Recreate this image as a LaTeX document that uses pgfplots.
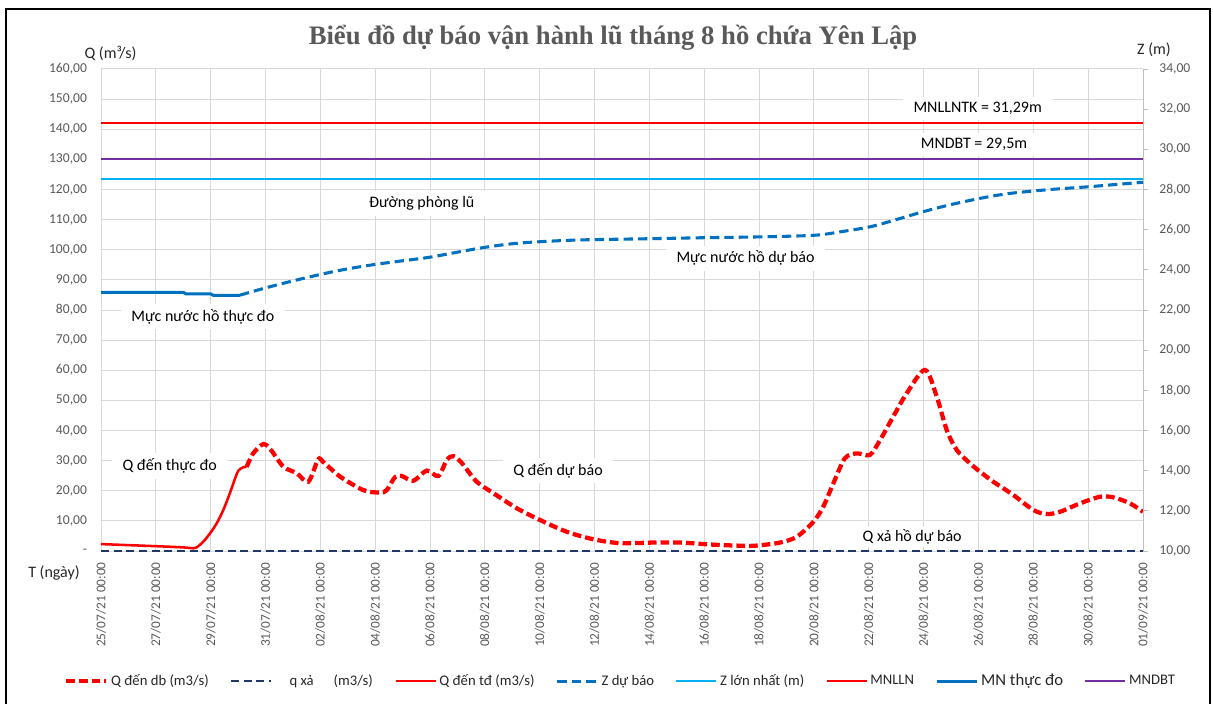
\documentclass[border=0pt]{standalone}
\usepackage{pgfplots}
\pgfplotsset{compat=1.18}
\usepackage{fontspec}
\setmainfont{Carlito}
\newfontfamily\titlefont{Liberation Serif}
\definecolor{qred}{HTML}{FF0000}
\definecolor{navy}{HTML}{203864}
\definecolor{zblue}{HTML}{0070C0}
\definecolor{zcyan}{HTML}{00B0F0}
\definecolor{mpurple}{HTML}{7030A0}
\definecolor{gridgray}{HTML}{D9D9D9}
\definecolor{axgray}{HTML}{BFBFBF}
\definecolor{txtgray}{HTML}{595959}
\definecolor{legtext}{HTML}{262626}
\tikzset{
  qdbstyle/.style={qred, line width=3.2pt, dash pattern=on 6.5pt off 3pt},
  qxastyle/.style={navy, line width=1.7pt, dash pattern=on 6pt off 3.5pt},
  qtdstyle/.style={qred, line width=1.9pt},
  zdbstyle/.style={zblue, line width=2.3pt, dash pattern=on 7pt off 3.8pt},
  zlnstyle/.style={zcyan, line width=1.5pt},
  mnllnstyle/.style={qred, line width=1.5pt},
  mntdstyle/.style={zblue, line width=2.3pt},
  mndbtstyle/.style={mpurple, line width=1.5pt},
  ann/.style={fill=white, text=black, font=\fontsize{12}{14}\selectfont, inner xsep=8pt, inner ysep=4pt},
}
\begin{document}
\begin{tikzpicture}
\path[use as bounding box] (0pt,0pt) rectangle (909.75pt,528pt);
\begin{axis}[
  at={(75.75pt,114.75pt)}, anchor=south west,
  scale only axis, width=781.5pt, height=361.5pt,
  xmin=0, xmax=38, ymin=0, ymax=160,
  clip=false,
  axis line style={draw=none},
  major tick length=0pt,
  tick pos=left,
  grid=major, grid style={gridgray, line width=0.75pt},
  xtick={0,2,...,38},
  xticklabels={25/07/21 00:00, 27/07/21 00:00, 29/07/21 00:00, 31/07/21 00:00, 02/08/21 00:00, 04/08/21 00:00, 06/08/21 00:00, 08/08/21 00:00, 10/08/21 00:00, 12/08/21 00:00, 14/08/21 00:00, 16/08/21 00:00, 18/08/21 00:00, 20/08/21 00:00, 22/08/21 00:00, 24/08/21 00:00, 26/08/21 00:00, 28/08/21 00:00, 30/08/21 00:00, 01/09/21 00:00},
  xticklabel style={rotate=90, anchor=east, font=\fontsize{10}{12}\selectfont, text=txtgray},
  xticklabel shift=5pt,
  ytick={0,10,...,160},
  yticklabels={{-\hspace{6pt}},{10,00},{20,00},{30,00},{40,00},{50,00},{60,00},{70,00},{80,00},{90,00},{100,00},{110,00},{120,00},{130,00},{140,00},{150,00},{160,00}},
  yticklabel style={font=\fontsize{10.2}{12}\selectfont, text=txtgray},
  yticklabel shift=7pt,
]
% q xa (m3/s)
\addplot[qxastyle] coordinates {(0,0) (38,0)};
% Q den thuc do
\addplot[qtdstyle, smooth] coordinates {(0,2.3) (1,1.95) (2,1.6) (3,1.2) (3.37,0.9) (3.49,1.2) (3.73,3.1) (3.98,5.9) (4.22,9.2) (4.46,13.6) (4.70,19.2) (4.89,24.1) (5.01,26.7) (5.19,27.8) (5.31,27.9)};
% Q den du bao
\addplot[qdbstyle, smooth] coordinates {(5.31,27.9) (5.55,32.4) (5.92,35.5) (6.20,33.5) (6.65,28) (7.14,25.8) (7.56,23.0) (7.92,30.4) (8.11,29.5) (8.72,24.7) (9.57,20.2) (10.17,19.4) (10.42,20.2) (10.72,24.5) (10.97,24.9) (11.39,23.3) (11.88,26.7) (12.30,24.9) (12.61,30.2) (12.85,31.5) (13.15,29.3) (13.70,23.0) (14.31,19.2) (15.16,14.2) (16.01,10.3) (16.98,6.4) (17.95,3.9) (18.93,2.6) (20.14,2.8) (21.12,2.8) (22.33,2.1) (23.55,1.7) (24.03,1.9) (24.76,2.8) (25.37,4.7) (25.98,9.7) (26.34,14.7) (26.71,22.5) (27.13,30.8) (27.56,32.4) (28.04,31.9) (28.41,36.8) (28.89,44.6) (29.38,52.3) (30.05,60.1) (30.48,51.2) (30.84,40.2) (31.21,33.5) (31.69,29.1) (32.06,26.3) (32.54,23.0) (33.27,18.6) (34.0,13.6) (34.49,12.3) (34.97,13.0) (35.70,15.8) (36.43,18.0) (36.92,17.8) (37.53,15.8) (38.0,13.0)};
\end{axis}
\begin{axis}[
  at={(75.75pt,114.75pt)}, anchor=south west,
  scale only axis, width=781.5pt, height=361.5pt,
  xmin=0, xmax=38, ymin=10, ymax=34,
  clip=false,
  axis x line=none, axis y line*=right,
  y axis line style={draw=axgray, line width=0.75pt},
  ytick={10,12,...,34},
  yticklabels={{10,00},{12,00},{14,00},{16,00},{18,00},{20,00},{22,00},{24,00},{26,00},{28,00},{30,00},{32,00},{34,00}},
  tick align=outside, major tick length=3.75pt,
  ytick style={axgray, line width=0.75pt},
  yticklabel style={font=\fontsize{10.2}{12}\selectfont, text=txtgray},
  yticklabel shift=5pt,
  legend columns=8,
  legend cell align=left,
  legend image code/.code={\draw (0pt,0pt) -- (30pt,0pt);},
  legend style={at={(0.499,-0.27)}, anchor=center, draw=none, fill=none,
    font=\fontsize{11}{12}\selectfont, text=legtext,
    /tikz/every even column/.append style={column sep=14pt}},
]
\addlegendimage{qdbstyle}
\addlegendentry{Q đến db (m3/s)}
\addlegendimage{qxastyle}
\addlegendentry{\hspace{11pt}q xả\hspace{15pt}(m3/s)}
\addlegendimage{qtdstyle}
\addlegendentry{Q đến tđ (m3/s)}
% Z du bao
\addplot[zdbstyle, smooth] coordinates {(5.07,22.74) (6.0,23.10) (7.0,23.45) (8.1,23.80) (9.0,24.05) (10.05,24.28) (11.0,24.45) (12.0,24.63) (13.0,24.88) (14.0,25.12) (15.0,25.30) (16.0,25.40) (17.5,25.49) (20.0,25.55) (22.0,25.60) (24.0,25.64) (26.0,25.72) (27.0,25.90) (28.07,26.15) (29.0,26.50) (30.0,26.90) (31.0,27.25) (32.06,27.56) (33.0,27.78) (34.03,27.93) (35.0,28.04) (36.05,28.14) (37.0,28.25) (38.0,28.36)};
\addlegendentry{Z dự báo}
% Z lon nhat
\addplot[zlnstyle] coordinates {(0,28.5) (38,28.5)};
\addlegendentry{Z lớn nhất (m)}
% MNLLN
\addplot[mnllnstyle] coordinates {(0,31.29) (38,31.29)};
\addlegendentry{MNLLN}
% MN thuc do
\addplot[mntdstyle] coordinates {(0,22.88) (3.0,22.88) (3.1,22.80) (4.0,22.80) (4.1,22.73) (5.07,22.73)};
\addlegendentry{{\fontsize{12.5}{13}\selectfont MN thực đo}}
% MNDBT
\addplot[mndbtstyle] coordinates {(0,29.5) (38,29.5)};
\addlegendentry{MNDBT}
\end{axis}
\begin{scope}[x=0.75pt, y=0.75pt]
\draw[black, line width=1.6pt] (6,0) -- (6,695) -- (1210,695) -- (1210,0);
\node[text=txtgray, font=\titlefont\bfseries\fontsize{20}{24}\selectfont] at (613,666) {Biểu đồ dự báo vận hành lũ tháng 8 hồ chứa Yên Lập};
\node[font=\fontsize{12}{14}\selectfont, text=legtext] at (110.5,651) {Q (m³/s)};
\node[font=\fontsize{12}{14}\selectfont, text=legtext] at (1154,654) {Z (m)};
\node[font=\fontsize{12}{14}\selectfont, text=legtext] at (54,131) {T (ngày)};
\node[ann] at (977.7,595.7) {MNLLNTK = 31,29m};
\node[ann] at (974,559.7) {MNDBT = 29,5m};
\node[ann] at (421.7,500.7) {Đường phòng lũ};
\node[ann] at (745.5,445.7) {Mực nước hồ dự báo};
\node[ann] at (202.8,387.3) {Mực nước hồ thực đo};
\node[ann] at (169.7,238) {Q đến thực đo};
\node[ann] at (558,233.3) {Q đến dự báo};
\node[ann, inner ysep=2pt] at (912.2,167) {Q xả hồ dự báo};
\end{scope}
\end{tikzpicture}
\end{document}
